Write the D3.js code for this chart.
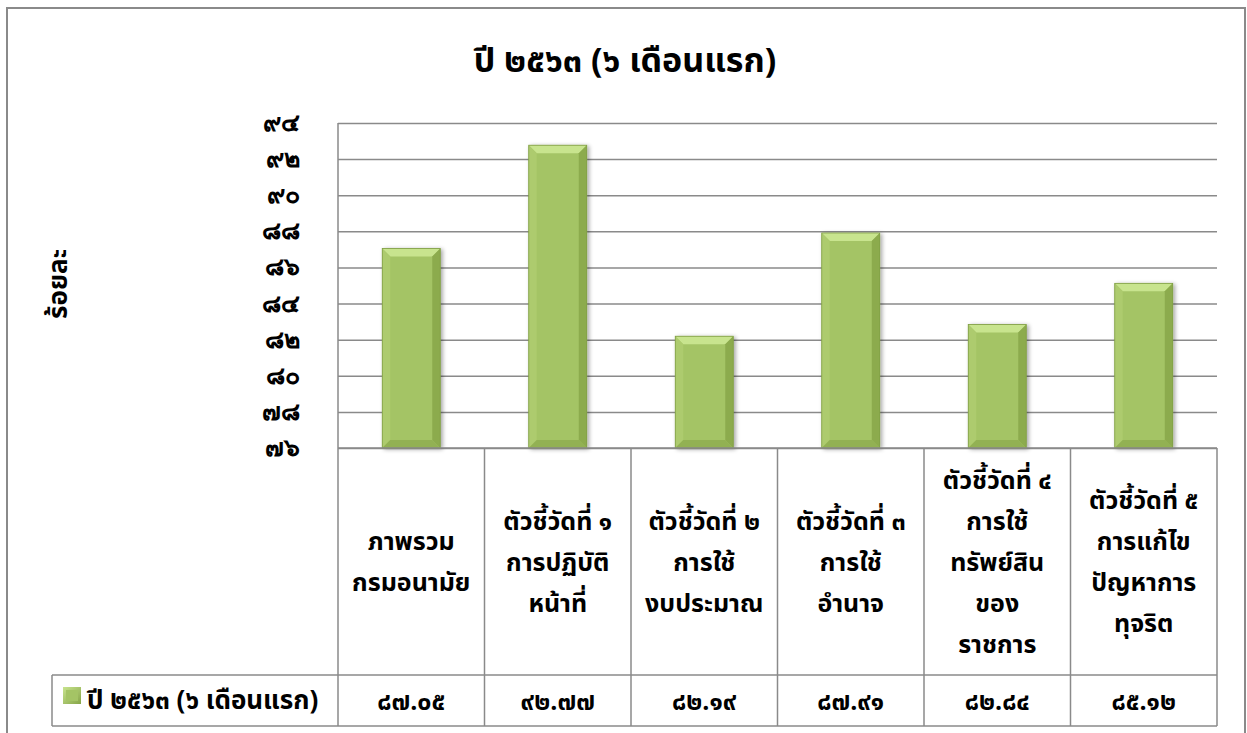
<!DOCTYPE html>
<html>
<head>
<meta charset="utf-8">
<script src="https://cdn.jsdelivr.net/npm/d3@7"></script>
<style>
  html, body { margin: 0; padding: 0; background: #fff; }
  svg { display: block; font-family: Tahoma, "Noto Sans Thai", Loma, Garuda, "Noto Sans", sans-serif; }
</style>
</head>
<body>
<svg id="chart" width="1247" height="733"></svg>
<script>
const title = "ปี ๒๕๖๓ (๖ เดือนแรก)";
const yAxisTitle = "ร้อยละ";
const seriesName = "ปี ๒๕๖๓ (๖ เดือนแรก)";
const categories = [
  ["ภาพรวม", "กรมอนามัย"],
  ["ตัวชี้วัดที่ ๑", "การปฏิบัติ", "หน้าที่"],
  ["ตัวชี้วัดที่ ๒", "การใช้", "งบประมาณ"],
  ["ตัวชี้วัดที่ ๓", "การใช้", "อำนาจ"],
  ["ตัวชี้วัดที่ ๔", "การใช้", "ทรัพย์สิน", "ของ", "ราชการ"],
  ["ตัวชี้วัดที่ ๕", "การแก้ไข", "ปัญหาการ", "ทุจริต"]
];
const values = [87.05, 92.77, 82.19, 87.91, 82.84, 85.12];
const yTicks = [76, 78, 80, 82, 84, 86, 88, 90, 92, 94];

const thaiDigits = "๐๑๒๓๔๕๖๗๘๙";
const toThai = s => String(s).replace(/[0-9]/g, d => thaiDigits[+d]);

const svg = d3.select("#chart");
const W = 1247, H = 733;
const plot = { left: 338, right: 1217, top: 123, bottom: 448 };
const tableMid = 675, tableBottom = 726, legendLeft = 52;
const gridColor = "#8a8a8a";

svg.append("rect").attr("width", W).attr("height", H).attr("fill", "#fff");
// outer chart border
svg.append("rect").attr("x", 7).attr("y", 8).attr("width", 1238).attr("height", 760)
  .attr("fill", "none").attr("stroke", "#8a8a8a").attr("stroke-width", 2);

const x = d3.scaleBand().domain(d3.range(categories.length))
  .range([plot.left, plot.right]).paddingInner(0).paddingOuter(0);
const y = d3.scaleLinear().domain([76, 94]).range([plot.bottom, plot.top]);

// title
svg.append("text").attr("x", 625).attr("y", 72).attr("text-anchor", "middle")
  .attr("font-size", 34).attr("font-weight", "bold").attr("fill", "#000").text(title);

// y axis title
svg.append("text").attr("transform", "translate(67,284) rotate(-90)")
  .attr("text-anchor", "middle").attr("font-size", 26).attr("font-weight", "bold")
  .text(yAxisTitle);

// gridlines + tick labels via axis
const yAxis = d3.axisLeft(y).tickValues(yTicks).tickSize(-(plot.right - plot.left))
  .tickPadding(38).tickFormat(d => toThai(d));
const gA = svg.append("g").attr("transform", `translate(${plot.left},0)`).call(yAxis);
gA.select(".domain").remove();
gA.selectAll(".tick line").attr("stroke", gridColor).attr("stroke-width", 1.5);
gA.selectAll(".tick text").attr("font-size", 25).attr("font-weight", "bold")
  .attr("fill", "#000").attr("font-family", null).attr("dy", "0.3em");

// vertical axis line
svg.append("line").attr("x1", plot.left).attr("x2", plot.left)
  .attr("y1", plot.top).attr("y2", tableBottom).attr("stroke", gridColor).attr("stroke-width", 1.5);

// bars with bevel
const defs = svg.append("defs");
const shadow = defs.append("filter").attr("id", "sh").attr("x", "-20%").attr("y", "-10%")
  .attr("width", "150%").attr("height", "130%");
shadow.append("feGaussianBlur").attr("in", "SourceAlpha").attr("stdDeviation", 2);
shadow.append("feOffset").attr("dx", 2).attr("dy", 1).attr("result", "b");
shadow.append("feComponentTransfer").append("feFuncA").attr("type", "linear").attr("slope", 0.35);
const fm = shadow.append("feMerge");
fm.append("feMergeNode");
fm.append("feMergeNode").attr("in", "SourceGraphic");

const barW = 58;
const bev = 8;
const bars = svg.append("g").selectAll("g").data(values).join("g").attr("filter", "url(#sh)");
bars.each(function(v, i) {
  const g = d3.select(this);
  const x0 = x(i) + x.bandwidth() / 2 - barW / 2, x1 = x0 + barW;
  const y0 = y(v), y1 = y(76);
  g.append("rect").attr("x", x0).attr("y", y0).attr("width", barW).attr("height", y1 - y0).attr("fill", "#a4c465");
  const poly = (pts, c) => g.append("polygon").attr("points", pts.map(p => p.join(",")).join(" ")).attr("fill", c);
  // top facet
  poly([[x0, y0], [x1, y0], [x1 - bev, y0 + bev], [x0 + bev, y0 + bev]], "#c8e48e");
  // left facet
  poly([[x0, y0], [x0 + bev, y0 + bev], [x0 + bev, y1 - bev], [x0, y1]], "#adcb6e");
  // right facet
  poly([[x1, y0], [x1, y1], [x1 - bev, y1 - bev], [x1 - bev, y0 + bev]], "#8cab4d");
  // bottom facet
  poly([[x0, y1], [x0 + bev, y1 - bev], [x1 - bev, y1 - bev], [x1, y1]], "#92b153");
  g.append("rect").attr("x", x0).attr("y", y0).attr("width", barW).attr("height", y1 - y0)
    .attr("fill", "none").attr("stroke", "#7f9d43").attr("stroke-width", 0.8);
});

// data table
const tbl = svg.append("g");
tbl.append("line").attr("x1", plot.left).attr("x2", plot.right).attr("y1", plot.bottom).attr("y2", plot.bottom)
  .attr("stroke", gridColor).attr("stroke-width", 1.5);
tbl.append("line").attr("x1", legendLeft).attr("x2", plot.right).attr("y1", tableMid).attr("y2", tableMid)
  .attr("stroke", gridColor).attr("stroke-width", 1.5);
tbl.append("line").attr("x1", legendLeft).attr("x2", plot.right).attr("y1", tableBottom).attr("y2", tableBottom)
  .attr("stroke", gridColor).attr("stroke-width", 1.5);
tbl.append("line").attr("x1", legendLeft).attr("x2", legendLeft).attr("y1", tableMid).attr("y2", tableBottom)
  .attr("stroke", gridColor).attr("stroke-width", 1.5);
const bounds = d3.range(categories.length + 1).map(i => i < categories.length ? x(i) : x(i - 1) + x.bandwidth());
tbl.selectAll(".vsep").data(bounds.slice(1)).join("line").attr("class", "vsep")
  .attr("x1", d => d).attr("x2", d => d).attr("y1", plot.bottom).attr("y2", tableBottom)
  .attr("stroke", gridColor).attr("stroke-width", 1.5);

// category labels
const lineH = 41;
const catMid = (plot.bottom + tableMid) / 2;
categories.forEach((lines, i) => {
  const cx = x(i) + x.bandwidth() / 2;
  const t = tbl.append("text").attr("text-anchor", "middle").attr("font-size", 25)
    .attr("font-weight", "bold").attr("fill", "#000");
  const startY = catMid - (lines.length - 1) * lineH / 2 + 9;
  lines.forEach((ln, k) => t.append("tspan").attr("x", cx).attr("y", startY + k * lineH).text(ln));
});

// values row
tbl.selectAll(".val").data(values).join("text").attr("class", "val")
  .attr("x", (d, i) => x(i) + x.bandwidth() / 2).attr("y", (tableMid + tableBottom) / 2 + 9)
  .attr("text-anchor", "middle").attr("font-size", 25).attr("font-weight", "bold")
  .text(d => toThai(d.toFixed(2)));

// legend
const lg = svg.append("g");
const grad = defs.append("linearGradient").attr("id", "lgG").attr("x1", 0).attr("y1", 0).attr("x2", 1).attr("y2", 1);
grad.append("stop").attr("offset", 0).attr("stop-color", "#c8e48e");
grad.append("stop").attr("offset", 1).attr("stop-color", "#86a548");
lg.append("rect").attr("x", 63).attr("y", 687).attr("width", 18).attr("height", 17).attr("fill", "url(#lgG)");
lg.append("rect").attr("x", 66).attr("y", 690).attr("width", 12).attr("height", 11).attr("fill", "#a4c465");
lg.append("text").attr("x", 87).attr("y", 709).attr("font-size", 26).attr("font-weight", "bold").text(seriesName);
</script>
</body>
</html>
